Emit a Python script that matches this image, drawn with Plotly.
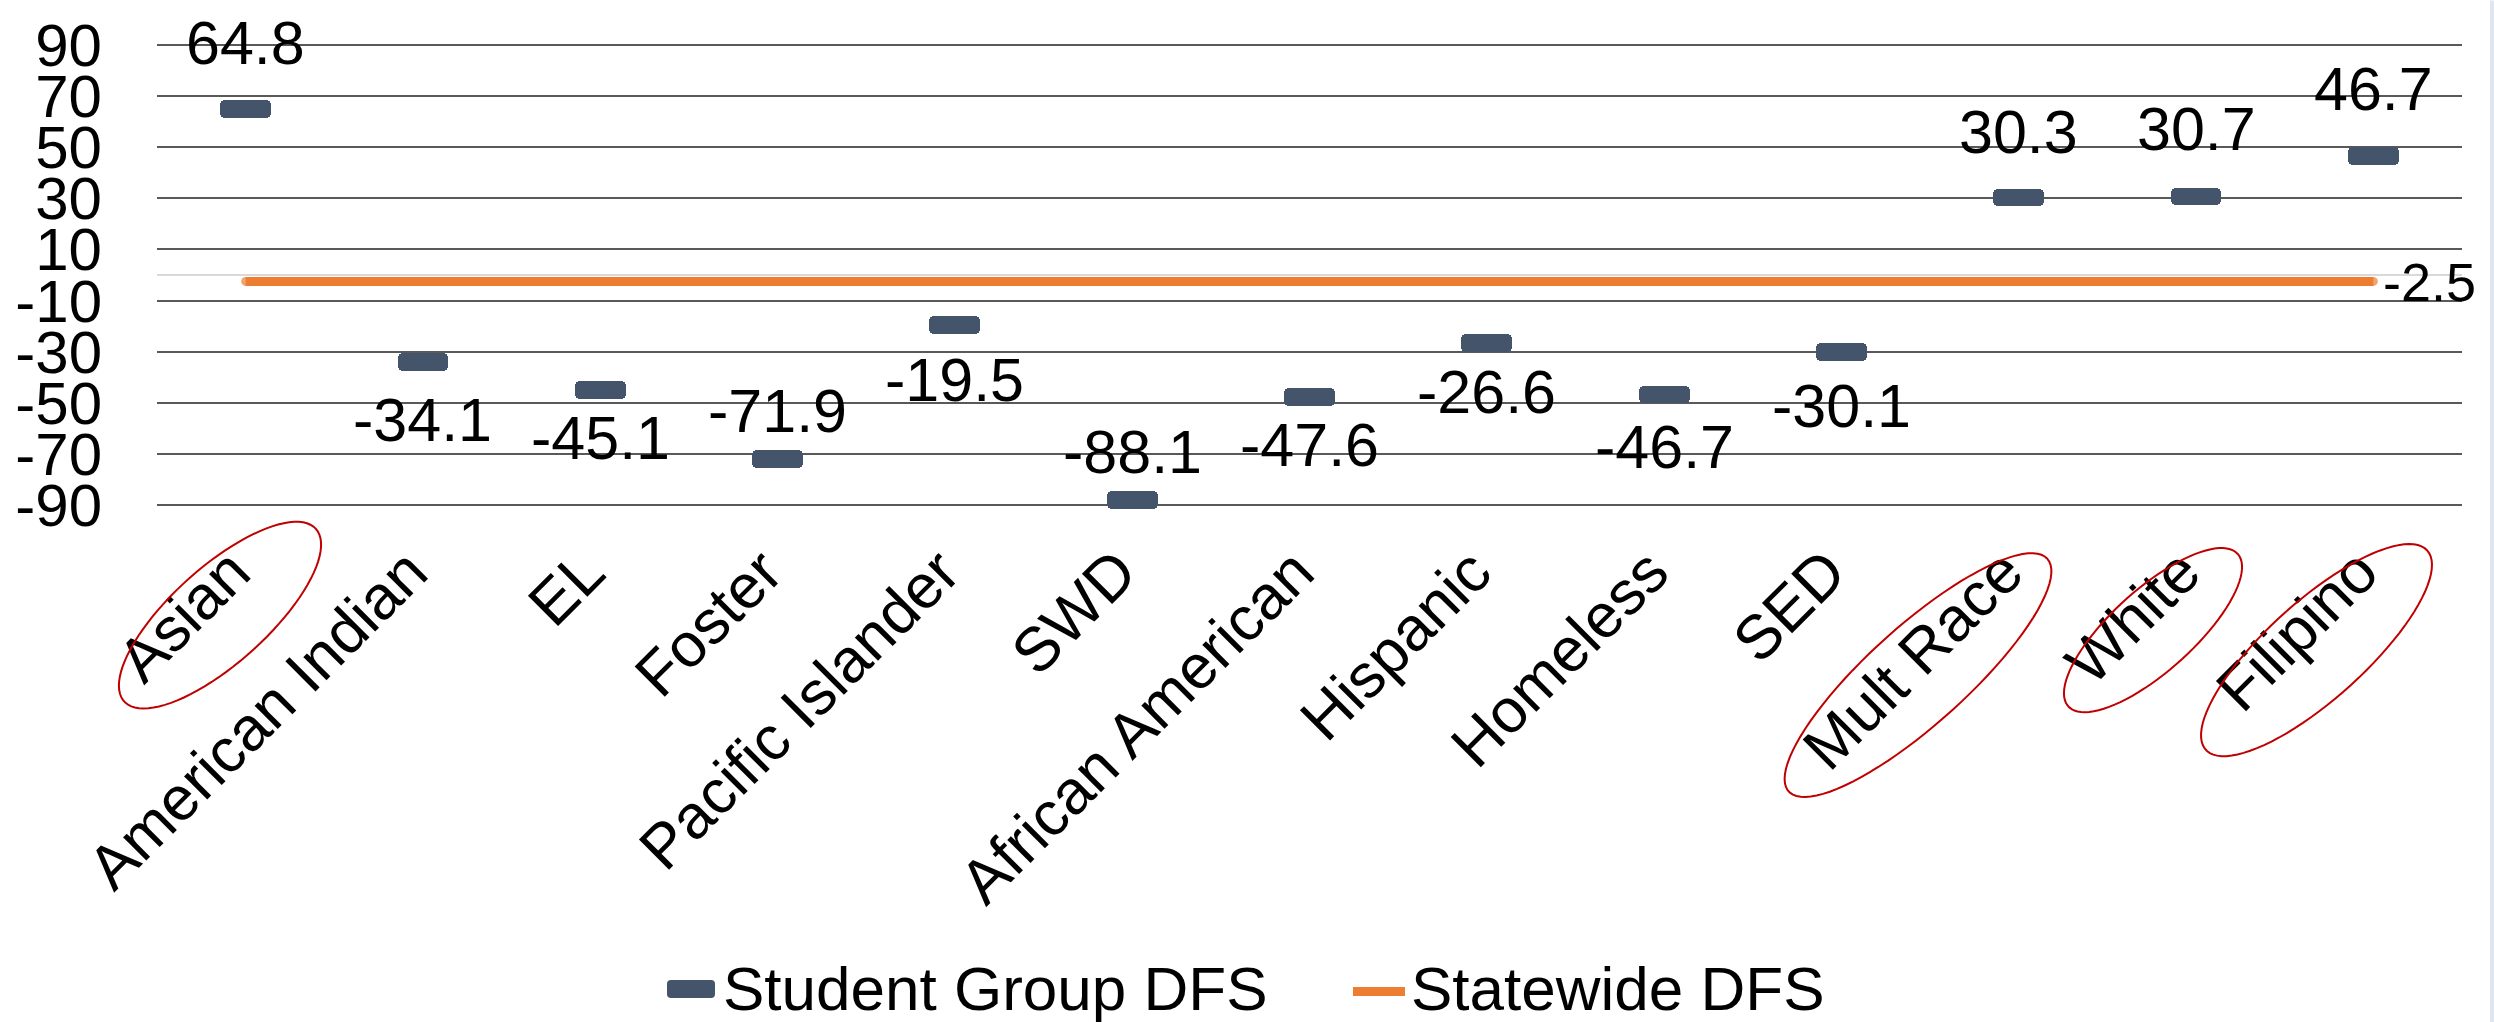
import numpy as np
import plotly.graph_objects as go

# ---- data -------------------------------------------------------------
groups = ["Asian", "American Indian", "EL", "Foster", "Pacific Islander", "SWD",
          "African American", "Hispanic", "Homeless", "SED", "Mult Race", "White",
          "Filipino"]
group_dfs = [64.8, -34.1, -45.1, -71.9, -19.5, -88.1, -47.6, -26.6, -46.7, -30.1,
             30.3, 30.7, 46.7]
statewide_dfs = -2.5
y_tick_values = [-90, -70, -50, -30, -10, 10, 30, 50, 70, 90]
highlighted = ["Asian", "Mult Race", "White", "Filipino"]

# ---- styling / layout constants ----------------------------------------
W, H = 2494, 1022
Y_MIN, Y_MAX = -95, 95                     # axis range (gridlines stop at +/-90)
GRID_TOP, GRID_BOTTOM = 44.3, 505.0        # pixel rows of the 90 / -90 gridlines
PX_PER_UNIT = (GRID_BOTTOM - GRID_TOP) / 180.0
L, R = 157, 2462
T = GRID_TOP - (Y_MAX - 90) * PX_PER_UNIT
B = GRID_BOTTOM + (90 + Y_MIN) * -PX_PER_UNIT
FONT = "Liberation Sans, Arial, sans-serif"
SLATE = "#44546A"
ORANGE = "#ED7D31"
RED = "#C00000"

# vertical pixel offset of each value label from its marker (down = positive)
label_offsets = [-66, 58, 48, -48, 55, -48, 48, 49, 53, 54, -66, -67, -67]


def px(x):
    return (x - L) / (R - L)


def py(y):
    return (B - y) / (B - T)


fig = go.Figure()

# short horizontal markers: floating bars centred on each value
bar_h = 7.0
base = np.array(group_dfs) - bar_h / 2
fig.add_trace(go.Bar(
    x=groups, y=[bar_h] * len(groups), base=base,
    width=0.287, marker=dict(color=SLATE, cornerradius=5, line=dict(width=0)),
    cliponaxis=False, showlegend=False, name="Student Group DFS",
))

# statewide reference line (dots at both ends give it rounded caps)
cap_sizes = [9] + [0] * (len(groups) - 2) + [9]
fig.add_trace(go.Scatter(
    x=groups, y=[statewide_dfs] * len(groups), mode="lines+markers",
    line=dict(color=ORANGE, width=9),
    marker=dict(color=ORANGE, size=cap_sizes, line=dict(width=0)),
    showlegend=False, name="Statewide DFS",
))

annotations = []
for g, v, off in zip(groups, group_dfs, label_offsets):
    annotations.append(dict(
        x=g, y=v, xref="x", yref="y", text=f"{v:.1f}", showarrow=False,
        yshift=-off, font=dict(family=FONT, size=61, color="black"),
    ))
annotations.append(dict(
    x=groups[-1], y=statewide_dfs, xref="x", yref="y", text=f"{statewide_dfs:.1f}",
    showarrow=False, xanchor="left", xshift=8, yshift=-1,
    font=dict(family=FONT, size=54, color="black"),
))

# legend (drawn below the chart)
annotations.append(dict(
    x=px(721), y=py(989), xref="paper", yref="paper", text="Student Group DFS",
    showarrow=False, xanchor="left", yanchor="middle",
    font=dict(family=FONT, size=62, color="black"),
))
annotations.append(dict(
    x=px(1409), y=py(989), xref="paper", yref="paper", text="Statewide DFS",
    showarrow=False, xanchor="left", yanchor="middle",
    font=dict(family=FONT, size=62, color="black"),
))


def rounded_rect(x0, y0, x1, y1, r):
    pts = [
        f"M{px(x0 + r)},{py(y0)}", f"L{px(x1 - r)},{py(y0)}",
        f"Q{px(x1)},{py(y0)} {px(x1)},{py(y0 + r)}", f"L{px(x1)},{py(y1 - r)}",
        f"Q{px(x1)},{py(y1)} {px(x1 - r)},{py(y1)}", f"L{px(x0 + r)},{py(y1)}",
        f"Q{px(x0)},{py(y1)} {px(x0)},{py(y1 - r)}", f"L{px(x0)},{py(y0 + r)}",
        f"Q{px(x0)},{py(y0)} {px(x0 + r)},{py(y0)}", "Z",
    ]
    return " ".join(pts)


def ellipse(cx, cy, a, b, deg, n=90):
    th = np.radians(deg)
    t = np.linspace(0, 2 * np.pi, n)
    xs = cx + a * np.cos(t) * np.cos(th) + b * np.sin(t) * np.sin(th)
    ys = cy - a * np.cos(t) * np.sin(th) + b * np.sin(t) * np.cos(th)
    d = "M" + " L".join(f"{px(x):.5f},{py(y):.5f}" for x, y in zip(xs, ys)) + " Z"
    return d


shapes = [
    dict(type="path", xref="paper", yref="paper", path=rounded_rect(667, 980, 715, 998, 4),
         fillcolor=SLATE, line=dict(width=0)),
    dict(type="line", xref="paper", yref="paper", x0=px(1353), x1=px(1405),
         y0=py(991.5), y1=py(991.5), line=dict(color=ORANGE, width=9)),
    # thin light-blue strip at the right edge
    dict(type="rect", xref="paper", yref="paper", x0=px(2490), x1=px(2494),
         y0=py(H), y1=py(0), fillcolor="#dde6f1", line=dict(width=0)),
]

# red highlight ovals around selected group names
oval_geometry = {
    "Asian": (220, 615, 129, 48, 42),
    "Mult Race": (1918, 675, 174, 49, 42),
    "White": (2153, 630, 114, 41, 42),
    "Filipino": (2316.5, 650, 149, 49, 42),
}
for name in highlighted:
    cx, cy, a, b, deg = oval_geometry[name]
    shapes.append(dict(type="path", xref="paper", yref="paper",
                       path=ellipse(cx, cy, a, b, deg),
                       line=dict(color=RED, width=2), fillcolor="rgba(0,0,0,0)"))

fig.update_layout(
    width=W, height=H,
    margin=dict(l=L, r=W - R, t=T, b=H - B, pad=0),
    paper_bgcolor="white", plot_bgcolor="white",
    font=dict(family=FONT, color="black"),
    showlegend=False,
    annotations=annotations, shapes=shapes,
    bargap=0,
)
fig.update_xaxes(
    type="category", range=[-0.5, len(groups) - 0.5],
    showgrid=False, showline=False, zeroline=False, ticks="",
    tickangle=-45, tickfont=dict(family=FONT, size=62, color="black"),
    ticklabelstandoff=4, ticklabelshift=-14,
)
fig.update_yaxes(
    range=[Y_MIN, Y_MAX], tickvals=y_tick_values,
    ticktext=[str(v) for v in y_tick_values],
    showgrid=True, gridcolor="#595959", gridwidth=2,
    zeroline=True, zerolinecolor="#d9d9d9", zerolinewidth=2,
    showline=False, ticks="", tickfont=dict(family=FONT, size=60, color="black"),
    ticklabelstandoff=54,
)

fig.write_html("out.html")
